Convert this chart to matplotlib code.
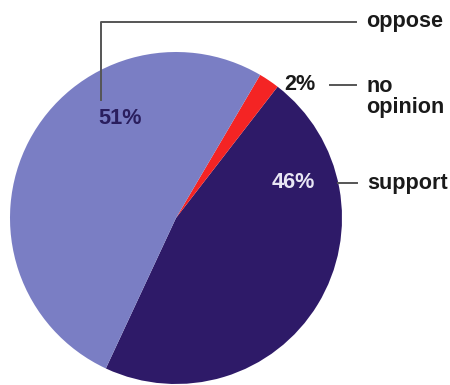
import matplotlib.pyplot as plt

labels = ['support', 'no opinion', 'oppose']
values = [46, 2, 51]
pct_text = ['46%', '2%', '51%']
colors = ['#2e1a68', '#f42424', '#7a7ec4']

W, H = 450, 385


def py(y):
    # pixel row -> data y
    return H - y


fig = plt.figure(figsize=(4.5, 3.85), dpi=100)
ax = fig.add_axes([0, 0, 1, 1])
ax.pie(values, colors=colors, startangle=-115, counterclock=True,
       center=(176, py(218)), radius=166, wedgeprops=dict(linewidth=0))
ax.set_xlim(0, W)
ax.set_ylim(0, H)
ax.set_aspect('equal')
ax.axis('off')

font = dict(family=['Liberation Sans', 'DejaVu Sans'], fontweight='bold', fontsize=15.6)
lc = '#555555'

# percentages inside / next to slices
ax.text(120, py(118), pct_text[2], color='#2a1e5e', ha='center', va='center', **font)
ax.text(293, py(183), pct_text[0], color='#e8e6f4', ha='center', va='center', **font)
ax.text(300, py(85), pct_text[1], color='#1a1a1a', ha='center', va='center', **font)

# leader lines
ax.plot([101, 101, 356], [py(100), py(22), py(22)], color=lc, lw=1.4)
ax.plot([330, 356], [py(85), py(85)], color=lc, lw=1.4)
ax.plot([338, 357], [py(183), py(183)], color=lc, lw=1.4)

# category labels
ax.text(366, py(22), labels[2], color='#1a1a1a', ha='left', va='center', **font)
ax.text(366, py(97), 'no\nopinion', color='#1a1a1a', ha='left', va='center',
        linespacing=1.05, **font)
ax.text(367, py(183), labels[0], color='#1a1a1a', ha='left', va='center', **font)

fig.savefig('out.png', dpi=100)
